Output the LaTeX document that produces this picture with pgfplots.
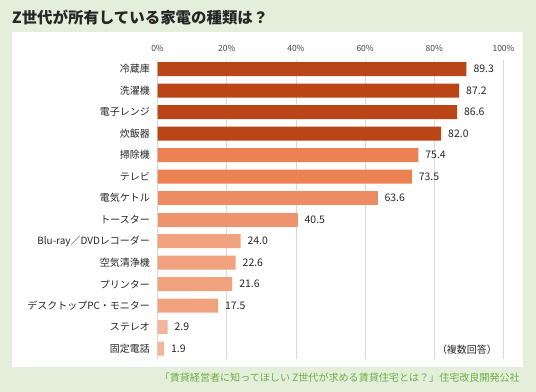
\documentclass[border=0pt]{standalone}
\usepackage{pgfplots}
\pgfplotsset{compat=1.18}
\usepackage{fontspec}
\setmainfont{Noto Sans CJK JP}
\definecolor{bggreen}{HTML}{E3EFDA}
\definecolor{footgreen}{HTML}{6FAD45}
\definecolor{cdark}{HTML}{BA4517}
\definecolor{cA}{HTML}{EC8152}
\definecolor{cB}{HTML}{ED8C63}
\definecolor{cC}{HTML}{EE9570}
\definecolor{cD}{HTML}{F0A27F}
\definecolor{cE}{HTML}{F4B49A}
\begin{document}
\begin{tikzpicture}
\fill[bggreen] (0,0) rectangle (536bp,392bp);
\fill[white] (12bp,25bp) rectangle (523bp,360bp);
\node[anchor=west, font=\bfseries\fontsize{15.5}{18}\selectfont, text=black!85, inner sep=0pt] at (12bp,375bp) {Z世代が所有している家電の種類は？};
\node[anchor=east, font=\fontsize{10.1}{12}\selectfont, text=footgreen, inner sep=0pt] at (520bp,14bp) {「賃貸経営者に知ってほしい Z世代が求める賃貸住宅とは？」住宅改良開発公社};
\begin{axis}[
  at={(157.5bp,33bp)}, anchor=south west, scale only axis,
  width=346bp, height=299bp,
  xbar, bar width=14bp, bar shift=0pt,
  xmin=0, xmax=100, ymin=-0.48, ymax=13.42,
  xtick={0,20,...,100},
  xticklabel={\pgfmathprintnumber{\tick}\%},
  xticklabel pos=upper,
  xmajorgrids, grid style={draw=black!15, line width=0.6pt},
  axis line style={draw=none}, major tick style={draw=none},
  ytick={0,...,13},
  yticklabels={固定電話,ステレオ,デスクトップPC・モニター,プリンター,空気清浄機,Blu-ray／DVDレコーダー,トースター,電気ケトル,テレビ,掃除機,炊飯器,電子レンジ,洗濯機,冷蔵庫},
  /pgf/number format/assume math mode=true,
  xticklabel style={font=\fontsize{8.5}{10}\selectfont, text=black!75, yshift=5bp},
  yticklabel style={font=\fontsize{10}{12}\selectfont, text=black!85},
  point meta=x,
  nodes near coords,
  nodes near coords style={font=\fontsize{10.5}{12}\selectfont, text=black!85, anchor=west, xshift=3.5bp,
    /pgf/number format/.cd, fixed, fixed zerofill, precision=1, assume math mode=true},
  every axis plot/.append style={draw=none},
  clip=false,
]
\addplot[fill=cdark] coordinates {(89.3,13) (87.2,12) (86.6,11) (82.0,10)};
\addplot[fill=cA] coordinates {(75.4,9) (73.5,8)};
\addplot[fill=cB] coordinates {(63.6,7)};
\addplot[fill=cC] coordinates {(40.5,6)};
\addplot[fill=cD] coordinates {(24.0,5) (22.6,4) (21.6,3) (17.5,2)};
\addplot[fill=cE] coordinates {(2.9,1) (1.9,0)};
\end{axis}
\node[anchor=east, font=\fontsize{10}{12}\selectfont, text=black!85, inner sep=0pt] at (497bp,42bp) {（複数回答）};
\end{tikzpicture}
\end{document}
